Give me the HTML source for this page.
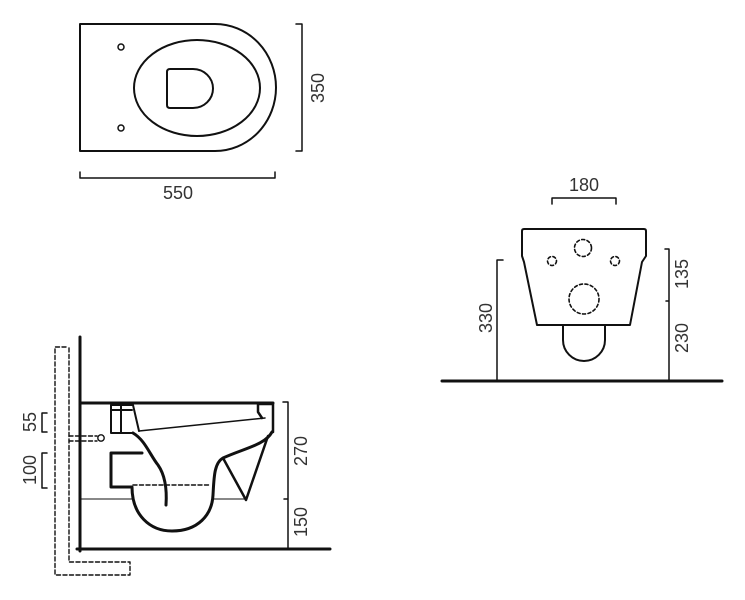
<!DOCTYPE html>
<html><head><style>body{margin:0;background:#fff}svg{display:block}text{font-family:"Liberation Sans",Arial,sans-serif;font-size:18px;font-weight:normal;fill:#333;stroke:none}</style></head>
<body>
<svg width="745" height="600" viewBox="0 0 745 600" fill="none" stroke="#111" stroke-linecap="round" stroke-linejoin="round">
<!-- top view -->
<path d="M80 24 H215 A61 63.5 0 0 1 215 151 H80 Z" stroke-width="2"/>
<ellipse cx="197" cy="88" rx="63" ry="48" stroke-width="2"/>
<path d="M170 69 H193 A20 19.5 0 0 1 193 108 H170 Q167 108 167 105 V72 Q167 69 170 69 Z" stroke-width="2"/>
<circle cx="121" cy="47" r="3" stroke-width="1.5"/>
<circle cx="121" cy="128" r="3" stroke-width="1.5"/>
<path d="M296 24 H302 V151 H296" stroke-width="1.5"/>
<text x="318" y="88" text-anchor="middle" transform="rotate(-90 318 88)" dy="6">350</text>
<path d="M80 172 V178 H275 V172" stroke-width="1.5"/>
<text x="178" y="199" text-anchor="middle">550</text>

<!-- front view -->
<path d="M552 204 V198 H616 V204" stroke-width="1.5"/>
<text x="584" y="191" text-anchor="middle">180</text>
<path d="M524 229 H644 Q646 229 646 231 V256 L642 262 L630 325 H537 L524 262 L522 256 V231 Q522 229 524 229 Z" stroke-width="2"/>
<path d="M563 326 V340 A21 21 0 0 0 605 340 V326" stroke-width="2"/>
<g stroke-dasharray="3 2.5" stroke-width="1.6">
<circle cx="583" cy="248" r="8.5"/><circle cx="552" cy="261" r="4.5"/><circle cx="615" cy="261" r="4.5"/><circle cx="584" cy="299" r="15"/>
</g>
<path d="M442 381 H722" stroke-width="3"/>
<path d="M503 260 H497 V381" stroke-width="1.5"/>
<text x="486" y="318" text-anchor="middle" transform="rotate(-90 486 318)" dy="6">330</text>
<path d="M665 249 H669 V381 M666 301 H669" stroke-width="1.5"/>
<text x="682" y="274" text-anchor="middle" transform="rotate(-90 682 274)" dy="6">135</text>
<text x="682" y="338" text-anchor="middle" transform="rotate(-90 682 338)" dy="6">230</text>

<!-- side view -->
<path d="M80 337 V551 M77 549 H330" stroke-width="3"/>
<g stroke-dasharray="4 2.5" stroke-width="1.4">
<path d="M66 347 H55 V575 H130 V562 H69 V348"/>
<path d="M69 436 H97 M69 441 H97"/>
<path d="M133 485 H210"/>
</g>
<circle cx="101" cy="438" r="3.2" stroke-width="1.4"/>
<path d="M80 403 H273" stroke-width="3"/>
<path d="M80 499 H133 M212 499 H246" stroke-width="1"/>
<path d="M111 405 H133 L139 431 M111 405 V433 H133 M121 406 V432 M111 410 H132" stroke-width="2"/>
<path d="M139 431 L265 418" stroke-width="1.5"/>
<path d="M258 404 H273 V432 M258 404 V412 L262 418" stroke-width="2.5"/>
<path d="M133 433 C145 440 150 455 158 465 C165 475 167 490 166 505" stroke-width="3"/>
<path d="M111 453 H142 M111 453 V487 H132 C132 515 150 531 172 531 C198 531 212 515 213 495 C214 478 214 463 223 458 C245 448 265 445 272 432" stroke-width="3"/>
<path d="M223 458 L246 500 L268 436" stroke-width="2.5"/>
<path d="M283 402 H288 V549 M284 499 H288" stroke-width="1.5"/>
<text x="301" y="451" text-anchor="middle" transform="rotate(-90 301 451)" dy="6">270</text>
<text x="301" y="522" text-anchor="middle" transform="rotate(-90 301 522)" dy="6">150</text>
<path d="M47 413 H42 V432 H47 M47 453 H42 V488 H47" stroke-width="1.5"/>
<text x="30" y="422" text-anchor="middle" transform="rotate(-90 30 422)" dy="6">55</text>
<text x="30" y="470" text-anchor="middle" transform="rotate(-90 30 470)" dy="6">100</text>
</svg>
</body></html>
